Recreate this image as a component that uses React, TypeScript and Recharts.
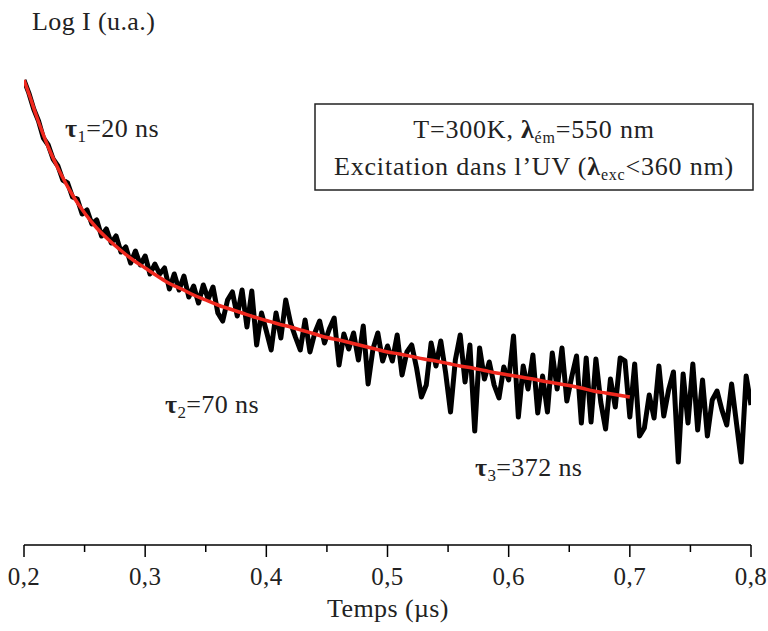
import { LineChart, Line, XAxis, YAxis } from 'recharts'

const debutTemps = 0.2
const pasTemps = 0.004
const mesure = [
  465, 452, 436, 424, 407, 400, 386, 379, 365, 362, 348, 346, 331,
  335, 321, 325, 309, 316, 302, 309, 293, 298, 282, 294, 280, 289, 271, 281, 271, 277, 256,
  271, 255, 269, 248, 259, 242, 260, 246, 258, 232,
  224, 245, 253, 229, 255, 218, 254, 200, 232, 214, 195, 232, 207, 245, 222, 208, 195, 225,
  193, 212, 224, 202, 216, 227, 180, 211, 196, 212, 185, 219, 161, 196, 212, 184, 199,
  184, 210, 170, 193, 200, 177, 148, 160, 202, 179, 204, 172, 133, 185, 210, 163, 200, 114,
  197, 166, 183, 160, 147, 178, 165, 209, 128, 179, 156, 190, 132, 169, 133, 192, 156, 197,
  144, 168, 189, 122, 187, 123, 186, 143, 116, 166, 138, 187, 184, 128,
  181, 109, 117, 150, 127, 179, 129, 155, 173, 83, 171, 122, 181, 115, 165, 109, 145, 154,
  135, 120, 161, 122, 83, 169, 140,
]

// ajustement tri-exponentiel (courbe rouge)
const tempsAjust = [
  0.2, 0.205, 0.21, 0.22, 0.23, 0.24, 0.25, 0.26, 0.27, 0.28, 0.29, 0.3, 0.31, 0.32, 0.33,
  0.34, 0.35, 0.36, 0.37, 0.38, 0.39, 0.4, 0.41, 0.42, 0.43, 0.44, 0.45, 0.46, 0.47, 0.48,
  0.49, 0.5, 0.51, 0.52, 0.53, 0.54, 0.55, 0.56, 0.57, 0.58, 0.59, 0.6, 0.61, 0.62, 0.63,
  0.64, 0.65, 0.66, 0.67, 0.68, 0.69, 0.7,
]
const ajustement = [
  465, 448, 430, 398, 372, 350, 332, 317, 305, 294.5, 285, 277, 269, 261.5, 256,
  250, 245, 240, 236, 232, 228, 224.5, 221, 218, 214.5, 211, 207.5, 205, 202, 199,
  196, 193, 191, 188.5, 186, 184, 181.5, 179, 177, 174.5, 172, 170, 168, 166, 163.5,
  161.5, 159.5, 157, 154, 152, 150, 148,
]

const ticksTemps = [0.2, 0.25, 0.3, 0.35, 0.4, 0.45, 0.5, 0.55, 0.6, 0.65, 0.7, 0.75, 0.8]

const police = 'Liberation Serif, DejaVu Serif, serif'
const styleTexte = { fontFamily: police, letterSpacing: '0.4px' }

const pointsMesure = mesure.map((v, i) => ({ t: debutTemps + i * pasTemps, v }))
const pointsAjust = tempsAjust.map((t, i) => ({ t, v: ajustement[i] }))

function TickTemps({ x, y, payload }: { x?: number; y?: number; payload?: { value: number } }) {
  if (x == null || y == null || !payload) return null
  const centiemes = Math.round(payload.value * 100)
  const majeur = centiemes % 10 === 0
  return (
    <g>
      <line x1={x} x2={x} y1={y} y2={y + (majeur ? 12 : 7)} stroke="#000" strokeWidth={1.5} />
      {majeur && (
        <text x={x} y={y + 40} textAnchor="middle" style={styleTexte} fontSize={25} fill="#222">
          {payload.value.toFixed(1).replace('.', ',')}
        </text>
      )}
    </g>
  )
}

export default function App() {
  return (
    <div style={{ position: 'relative', width: 768, height: 631, background: '#fff' }}>
      <style>{'body{margin:0}'}</style>
      <LineChart width={768} height={631} margin={{ top: 15, right: 17, bottom: 56, left: 24 }}>
        <XAxis
          type="number"
          dataKey="t"
          domain={[0.2, 0.8]}
          ticks={ticksTemps}
          interval={0}
          tick={<TickTemps />}
          tickLine={false}
          tickSize={0}
          tickMargin={0}
          axisLine={{ stroke: '#000', strokeWidth: 1.5 }}
          height={30}
          allowDataOverflow
        />
        <YAxis
          type="number"
          domain={[0, 530]}
          width={0}
          tick={false}
          tickLine={false}
          axisLine={{ stroke: '#000', strokeWidth: 1.5 }}
        />
        <Line
          data={pointsMesure}
          dataKey="v"
          stroke="#000"
          strokeWidth={5}
          strokeLinejoin="round"
          dot={false}
          isAnimationActive={false}
        />
        <Line
          data={pointsAjust}
          dataKey="v"
          type="monotone"
          stroke="#f0281e"
          strokeWidth={3.5}
          dot={false}
          isAnimationActive={false}
        />
      </LineChart>
      <svg
        width={768}
        height={631}
        style={{ position: 'absolute', left: 0, top: 0, pointerEvents: 'none', ...styleTexte }}
        fill="#222"
      >
        <text x={32} y={30} fontSize={26}>Log I (u.a.)</text>
        <text x={388} y={617} fontSize={26} textAnchor="middle">Temps (µs)</text>

        <text x={65} y={137} fontSize={26}>
          <tspan fontWeight="bold">τ</tspan>
          <tspan dy={5} fontSize={17}>1</tspan>
          <tspan dy={-5}>=20 ns</tspan>
        </text>
        <text x={165} y={413} fontSize={26}>
          <tspan fontWeight="bold">τ</tspan>
          <tspan dy={5} fontSize={17}>2</tspan>
          <tspan dy={-5}>=70 ns</tspan>
        </text>
        <text x={475} y={476} fontSize={26}>
          <tspan fontWeight="bold">τ</tspan>
          <tspan dy={5} fontSize={17}>3</tspan>
          <tspan dy={-5}>=372 ns</tspan>
        </text>

        <rect x={315} y={104} width={438} height={86} fill="none" stroke="#222" strokeWidth={1.5} />
        <text x={534} y={138} fontSize={26} textAnchor="middle" letterSpacing="0.8px">
          T=300K, <tspan fontWeight="bold">λ</tspan>
          <tspan dy={5} fontSize={16}>ém</tspan>
          <tspan dy={-5}>=550 nm</tspan>
        </text>
        <text x={534} y={175} fontSize={26} textAnchor="middle" letterSpacing="0.8px">
          Excitation dans l’UV (<tspan fontWeight="bold">λ</tspan>
          <tspan dy={5} fontSize={16}>exc</tspan>
          <tspan dy={-5}>&lt;360 nm)</tspan>
        </text>
      </svg>
    </div>
  )
}
